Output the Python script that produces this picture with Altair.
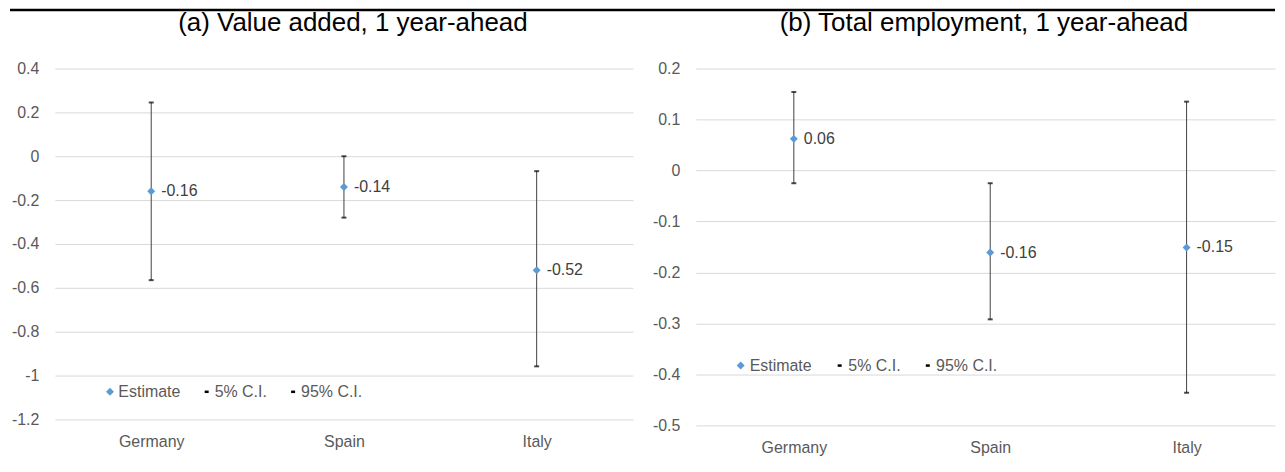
import altair as alt
import pandas as pd

FONT = "Liberation Sans"

countries = ["Germany", "Spain", "Italy"]

# (a) Value added, 1 year-ahead
va_est = [-0.16, -0.14, -0.52]
va_lo = [-0.565, -0.28, -0.958]
va_hi = [0.245, 0.0, -0.068]

# (b) Total employment, 1 year-ahead
emp_est = [0.062, -0.161, -0.151]
emp_lo = [-0.025, -0.292, -0.436]
emp_hi = [0.154, -0.025, 0.135]

va_ticks = [-1.2, -1.0, -0.8, -0.6, -0.4, -0.2, 0.0, 0.2, 0.4]
emp_ticks = [-0.5, -0.4, -0.3, -0.2, -0.1, 0.0, 0.1, 0.2]

titles = ["(a) Value added, 1 year-ahead", "(b) Total employment, 1 year-ahead"]
legend_labels = ["Estimate", "5% C.I.", "95% C.I."]

BLUE = "#5B9BD5"
GRID = "#d9d9d9"
TICKC = "#595959"


def panel(est, lo, hi, ticks, title, width, height, xpad, xalign, title_x, leg, top_line=False):
    df = pd.DataFrame({"country": countries, "est": est, "lo": lo, "hi": hi})
    df["label"] = [f"{v:.2f}" for v in est]

    xenc = alt.X(
        "country:N", sort=countries,
        scale=alt.Scale(type="point", padding=xpad, align=xalign),
        axis=alt.Axis(title=None, labelAngle=0, ticks=False, domain=False,
                      labelPadding=14, grid=False),
    )
    yscale = alt.Scale(domain=[ticks[0], ticks[-1]], nice=False, zero=False)
    yaxis = alt.Axis(title=None, values=ticks, ticks=False, domain=False,
                     labelPadding=16, grid=True, gridColor=GRID, gridWidth=1,
                     labelExpr="'' + round(datum.value*10)/10")

    def Y(f):
        return alt.Y(f, scale=yscale, axis=yaxis)

    base = alt.Chart(df)
    ci = base.mark_rule(color="#404040", strokeWidth=1).encode(x=xenc, y=Y("lo:Q"), y2="hi:Q")
    cap_lo = base.mark_tick(color="black", size=5, thickness=2).encode(x=xenc, y=Y("lo:Q"))
    cap_hi = base.mark_tick(color="black", size=5, thickness=2).encode(x=xenc, y=Y("hi:Q"))
    pts = base.mark_point(shape="diamond", filled=True, size=64, color=BLUE, opacity=1).encode(
        x=xenc, y=Y("est:Q"))
    lbl = base.mark_text(align="left", baseline="middle", dx=10, fontSize=16, font=FONT,
                         color="#404040").encode(x=xenc, y=Y("est:Q"), text="label:N")

    one = alt.Chart(pd.DataFrame({"k": [0]}))
    ttl = one.mark_text(align="center", baseline="middle", fontSize=26, font=FONT,
                        color="black").encode(x=alt.value(title_x), y=alt.value(-45.5),
                                              text=alt.value(title))
    lx, ly = leg["x"], leg["y"]
    leg_pt = one.mark_point(shape="diamond", filled=True, size=64, color=BLUE, opacity=1).encode(
        x=alt.value(lx[0]), y=alt.value(ly))
    leg_txt = [
        one.mark_text(align="left", baseline="middle", fontSize=16, font=FONT, color=TICKC).encode(
            x=alt.value(lx[i * 2 + 1]), y=alt.value(ly), text=alt.value(legend_labels[i]))
        for i in range(3)
    ]
    leg_dash = [
        one.mark_rule(color="black", strokeWidth=2.5).encode(
            x=alt.value(lx[2 * i]), x2=alt.value(lx[2 * i] + 4), y=alt.value(ly))
        for i in (1, 2)
    ]
    layers = [ci, cap_lo, cap_hi, pts, lbl, ttl, leg_pt] + leg_txt + leg_dash
    if top_line:
        layers.append(one.mark_rule(color="black", strokeWidth=2.5).encode(
            x=alt.value(-45), x2=alt.value(1224), y=alt.value(-58.75)))
    return alt.layer(*layers).properties(width=width, height=height)


left = panel(va_est, va_lo, va_hi, va_ticks, titles[0], 580, 352, 0.5, 0.5, 299,
             {"x": [55.3, 63.7, 150.3, 160.3, 237.0, 247.0], "y": 324.3}, top_line=True)
right = panel(emp_est, emp_lo, emp_hi, emp_ticks, titles[1], 581, 358, 0.4746, 0.5257, 289,
              {"x": [45.0, 54.0, 142.3, 153.0, 230.7, 241.0], "y": 298.0})

chart = alt.hconcat(left, right, spacing=63, bounds="flush", padding=0).configure_view(
    strokeWidth=0
).configure_axis(
    labelFont=FONT, labelFontSize=16, labelColor=TICKC
)

chart.save("out.html", embed_options={"renderer": "svg", "actions": False})
